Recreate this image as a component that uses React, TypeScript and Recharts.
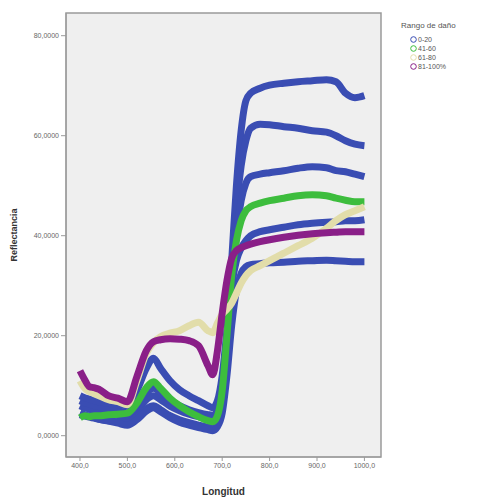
import { LineChart, Line, XAxis, YAxis, CartesianGrid, ReferenceArea } from 'recharts';

// wavelengths (nm) shared by every spectrum
const longitud = [400, 410, 420, 430, 440, 460, 480, 500, 520, 540, 555, 570, 590, 610, 630, 650, 670, 680, 690, 700, 710, 720, 730, 740, 750, 760, 780, 800, 830, 860, 890, 920, 940, 960, 980, 1000];

// reflectance (%) per sample
const dano0a20A = [6, 5.6, 5.3, 5, 4.8, 4.4, 4, 3.6, 5, 7.2, 8, 7.2, 5.9, 5, 4.3, 3.8, 3.5, 3.5, 4.5, 8, 20, 35, 50, 61, 67, 68.5, 69.5, 70.1, 70.5, 70.8, 71, 71.2, 70.8, 68.5, 67.6, 68];
const dano0a20B = [7, 6.6, 6.3, 6, 5.8, 5.4, 5, 4.6, 6.2, 8.6, 9.5, 8.6, 7, 6, 5.2, 4.6, 4.2, 4.1, 5, 8, 18, 32, 45, 54, 59, 61.5, 62.3, 62.2, 61.8, 61.5, 61, 60.7, 60, 59, 58.3, 58];
const dano0a20C = [4.2, 3.9, 3.7, 3.5, 3.3, 3, 2.8, 2.6, 3.7, 5.4, 6, 5.2, 4, 3.2, 2.6, 2.1, 1.7, 1.6, 2.5, 6, 16, 29, 40, 47, 50.5, 51.8, 52.3, 52.6, 53, 53.5, 53.8, 53.6, 53, 52.8, 52.3, 51.8];
const dano0a20D = [8, 7.6, 7.3, 7, 6.8, 6.5, 6.2, 6, 9, 13.5, 15.5, 13.5, 11, 9.2, 8, 7, 6, 5.6, 7, 12, 21, 30, 35, 37.5, 39, 40, 40.8, 41.2, 41.7, 42.2, 42.5, 42.7, 42.8, 43, 43, 43.2];
const dano0a20E = [4.6, 4.2, 3.9, 3.6, 3.3, 2.9, 2.5, 2.1, 3.2, 4.9, 5.6, 4.8, 3.6, 2.7, 2.1, 1.6, 1.2, 1, 1.8, 4.5, 12, 22, 29, 32.5, 33.8, 34.2, 34.4, 34.6, 34.7, 34.9, 35, 35.1, 35, 34.9, 34.8, 34.8];
const dano41a60 = [3.6, 4, 3.8, 4, 4, 4.2, 4.3, 4.5, 6.5, 9.6, 10.8, 9.5, 7.5, 6, 4.8, 3.8, 3, 2.8, 4, 9, 20, 32, 39, 43, 45, 45.8, 46.5, 47, 47.5, 48, 48.2, 48, 47.5, 47.1, 46.8, 46.8];
const dano61a80 = [11, 9.5, 8.8, 8.4, 8, 7.2, 6.8, 6.2, 11, 16.5, 18.6, 19.8, 20.5, 21, 22, 22.7, 21, 20.6, 22.5, 24.3, 25.3, 26.5, 28.5, 30.5, 32, 33, 34, 35, 36.5, 38, 39.5, 41.5, 43, 44.2, 45, 45.8];
const dano81a100 = [13, 11.2, 9.8, 9.6, 9.3, 8, 7.5, 6.8, 11.8, 17, 18.8, 19.2, 19.4, 19.3, 19, 18, 14, 12.2, 17, 24.5, 31, 35.5, 37, 37.6, 38, 38.3, 38.8, 39.2, 39.7, 40.1, 40.4, 40.6, 40.7, 40.8, 40.8, 40.8];

const ticksY = [0, 20, 40, 60, 80];
const ticksX = [400, 500, 600, 700, 800, 900, 1000];

const AZUL = '#3a4db3';
const VERDE = '#3dbd3d';
const AMARILLO = '#e2ddaa';
const MORADO = '#8a1f88';

const grupos = [
  { nombre: '0-20', color: AZUL },
  { nombre: '41-60', color: VERDE },
  { nombre: '61-80', color: AMARILLO },
  { nombre: '81-100%', color: MORADO },
];

const series = [
  { id: 'a', valores: dano0a20A, color: AZUL },
  { id: 'b', valores: dano0a20B, color: AZUL },
  { id: 'c', valores: dano0a20C, color: AZUL },
  { id: 'd', valores: dano0a20D, color: AZUL },
  { id: 'e', valores: dano0a20E, color: AZUL },
  { id: 'f', valores: dano41a60, color: VERDE },
  { id: 'g', valores: dano61a80, color: AMARILLO },
  { id: 'h', valores: dano81a100, color: MORADO },
].map((s) => ({ ...s, data: longitud.map((x, i) => ({ x, y: s.valores[i] })) }));

const FONT = '"Liberation Sans", Arial, sans-serif';

const fmtY = (v: number) => v.toFixed(4).replace('.', ',');
const fmtX = (v: number) => v.toFixed(1).replace('.', ',');

function Leyenda() {
  return (
    <div style={{ position: 'absolute', left: 401, top: 21, fontFamily: FONT, fontSize: 7, color: '#555', lineHeight: '9px' }}>
      <div style={{ fontSize: 8, marginBottom: 5 }}>Rango de daño</div>
      {grupos.map((g) => (
        <div key={g.nombre} style={{ display: 'flex', alignItems: 'center', marginLeft: 9 }}>
          <svg width={7} height={7} style={{ marginRight: 1 }}>
            <circle cx={3.5} cy={3.5} r={2.8} fill="none" stroke={g.color} strokeWidth={1} />
          </svg>
          {g.nombre}
        </div>
      ))}
    </div>
  );
}

export default function App() {
  return (
    <div style={{ position: 'absolute', left: 0, top: 0, width: 477, height: 499, background: '#fff' }}>
      <LineChart width={477} height={499} margin={{ top: 13, right: 96, left: 8, bottom: 0 }}>
        <CartesianGrid horizontal={false} vertical={false} fill="#efefef" />
        <ReferenceArea x1={370.5} x2={1035} y1={-4.26} y2={84.54} fill="none" stroke="#9a9a9a" strokeWidth={1.5} ifOverflow="visible" />
        <XAxis
          dataKey="x"
          type="number"
          domain={[370.5, 1035]}
          ticks={ticksX}
          tickFormatter={fmtX}
          allowDataOverflow
          height={42}
          tickSize={4}
          stroke="#9a9a9a"
          tick={{ fill: '#666', fontSize: 7, fontFamily: FONT }}
          label={{ value: 'Longitud', position: 'insideBottom', offset: 4, style: { fontFamily: FONT, fontSize: 10, fontWeight: 'bold', fill: '#333' } }}
        />
        <YAxis
          type="number"
          domain={[-4.26, 84.54]}
          ticks={ticksY}
          tickFormatter={fmtY}
          allowDataOverflow
          width={58}
          tickSize={5}
          stroke="#9a9a9a"
          tick={{ fill: '#666', fontSize: 7, fontFamily: FONT }}
          label={{ value: 'Reflectancia', angle: -90, position: 'insideLeft', offset: 6, style: { textAnchor: 'middle', fontFamily: FONT, fontSize: 9, fontWeight: 'bold', fill: '#333' } }}
        />
        {series.map((s) => (
          <Line
            key={s.id}
            data={s.data}
            dataKey="y"
            type="monotone"
            stroke={s.color}
            strokeWidth={7}
            strokeLinejoin="round"
            dot={false}
            activeDot={false}
            isAnimationActive={false}
          />
        ))}
      </LineChart>
      <Leyenda />
    </div>
  );
}
